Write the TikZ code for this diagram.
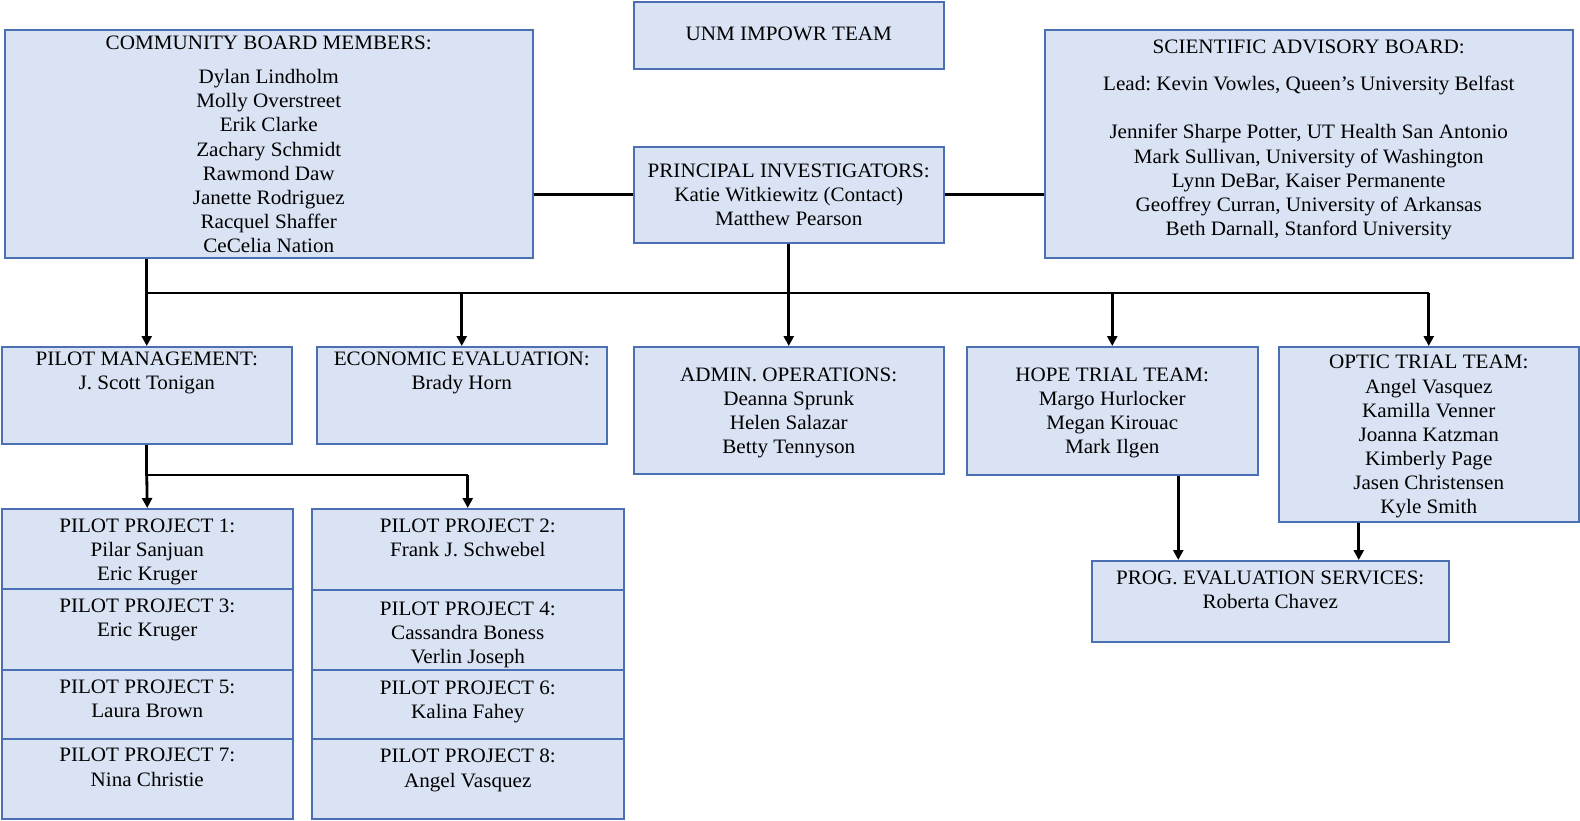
\documentclass[tikz,border=0pt]{standalone}
\usepackage{fontspec}
\setmainfont[FakeStretch=1.03]{Liberation Serif}
\usetikzlibrary{arrows.meta,calc}
\definecolor{boxfill}{HTML}{DAE3F3}
\definecolor{boxline}{HTML}{4A6FB3}
\newcommand\orgbox[5]{\node[orgbx, minimum width=#4-#2, minimum height=#5-#3] (#1) at (#2,#3) {};}
\newcommand\orgtext[4]{\node[orgtx, yshift=9.9pt] (#1) at (#2.north |- 0,#3) {\strut #4};}
\tikzset{
  orgbx/.style={draw=boxline, fill=boxfill, line width=1.5pt, inner sep=0pt, anchor=north west},
  orgtx/.style={align=center, anchor=north, inner sep=0pt, font=\fontsize{20.5}{24.1}\selectfont\frenchspacing},
  conn/.style={line width=2.8pt, line join=miter},
  arr/.style={line width=2.8pt, -{Triangle[length=10pt,width=10pt]}},
}
\begin{document}
\begin{tikzpicture}[x=1pt,y=-1pt]
\fill[white] (0,0) rectangle (1580,820);
\useasboundingbox (0,0) rectangle (1580,820);
% boxes
\orgbox{unm}{633}{1}{943}{68}
\orgbox{cb}{4}{29}{532}{257}
\orgbox{sab}{1044}{29}{1572}{257}
\orgbox{pi}{633}{146}{943}{242}
\orgbox{pm}{1}{346}{291}{443}
\orgbox{ee}{316}{346}{606}{443}
\orgbox{ad}{633}{346}{943}{473}
\orgbox{ho}{966}{346}{1257}{474}
\orgbox{op}{1278}{346}{1578}{521}
\orgbox{pe}{1091}{560}{1448}{641}
\orgbox{p1}{1}{508}{292}{588}
\orgbox{p3}{1}{588}{292}{669}
\orgbox{p5}{1}{669}{292}{738}
\orgbox{p7}{1}{738}{292}{818}
\orgbox{p2}{311}{508}{623}{589}
\orgbox{p4}{311}{589}{623}{669}
\orgbox{p6}{311}{669}{623}{738}
\orgbox{p8}{311}{738}{623}{818}
% texts
\orgtext{tunm}{unm}{33.3}{UNM IMPOWR TEAM}
\orgtext{tcb}{cb}{42.3}{COMMUNITY BOARD MEMBERS:\\[10.2pt]Dylan Lindholm\\Molly Overstreet\\Erik Clarke\\Zachary Schmidt\\Rawmond Daw\\Janette Rodriguez\\Racquel Shaffer\\CeCelia Nation}
\orgtext{tsab}{sab}{46.4}{SCIENTIFIC ADVISORY BOARD:\\[13.1pt]Lead: Kevin Vowles, Queen’s University Belfast\\[24.1pt]Jennifer Sharpe Potter, UT Health San Antonio\\Mark Sullivan, University of Washington\\Lynn DeBar, Kaiser Permanente\\Geoffrey Curran, University of Arkansas\\Beth Darnall, Stanford University}
\orgtext{tpi}{pi}{170.3}{PRINCIPAL INVESTIGATORS:\\Katie Witkiewitz (Contact)\\Matthew Pearson}
\orgtext{tpm}{pm}{358.7}{PILOT MANAGEMENT:\\J. Scott Tonigan}
\orgtext{tee}{ee}{358.7}{ECONOMIC EVALUATION:\\Brady Horn}
\orgtext{tad}{ad}{373.9}{ADMIN. OPERATIONS:\\Deanna Sprunk\\Helen Salazar\\Betty Tennyson}
\orgtext{tho}{ho}{373.9}{HOPE TRIAL TEAM:\\Margo Hurlocker\\Megan Kirouac\\Mark Ilgen}
\orgtext{top}{op}{361.8}{OPTIC TRIAL TEAM:\\Angel Vasquez\\Kamilla Venner\\Joanna Katzman\\Kimberly Page\\Jasen Christensen\\Kyle Smith}
\orgtext{tpe}{pe}{577.4}{PROG. EVALUATION SERVICES:\\Roberta Chavez}
\orgtext{tp1}{p1}{525}{PILOT PROJECT 1:\\Pilar Sanjuan\\Eric Kruger}
\orgtext{tp2}{p2}{525}{PILOT PROJECT 2:\\Frank J. Schwebel}
\orgtext{tp3}{p3}{605.6}{PILOT PROJECT 3:\\Eric Kruger}
\orgtext{tp4}{p4}{608.6}{PILOT PROJECT 4:\\Cassandra Boness\\Verlin Joseph}
\orgtext{tp5}{p5}{686.2}{PILOT PROJECT 5:\\Laura Brown}
\orgtext{tp6}{p6}{687.2}{PILOT PROJECT 6:\\Kalina Fahey}
\orgtext{tp7}{p7}{754.8}{PILOT PROJECT 7:\\Nina Christie}
\orgtext{tp8}{p8}{755.8}{PILOT PROJECT 8:\\Angel Vasquez}
% connectors
\coordinate (bus) at (788,293);
\coordinate (pmbus) at (146,475);
\draw[conn] (cb.east |- pi.west) -- (pi.west);
\draw[conn] (pi.east) -- (sab.west |- pi.east);
\draw[arr] (pi.south) -- (ad.north);
\draw[conn] (pm.north |- bus) -- (op.north |- bus);
\draw[arr] (cb.south -| pm.north) -- (pm.north);
\draw[arr] (ee.north |- bus) -- (ee.north);
\draw[arr] (ho.north |- bus) -- (ho.north);
\draw[arr] (op.north |- bus) -- (op.north);
\draw[conn] (pm.south) -- (pm.south |- pmbus) -- (p2.north |- pmbus);
\draw[arr] (pm.south |- pmbus) -- (p1.north);
\draw[arr] (p2.north |- pmbus) -- (p2.north);
\draw[arr] ([xshift=66pt]ho.south) -- ([xshift=66pt]ho.south |- pe.north);
\draw[arr] ([xshift=-70pt]op.south) -- ([xshift=-70pt]op.south |- pe.north);
\end{tikzpicture}
\end{document}
